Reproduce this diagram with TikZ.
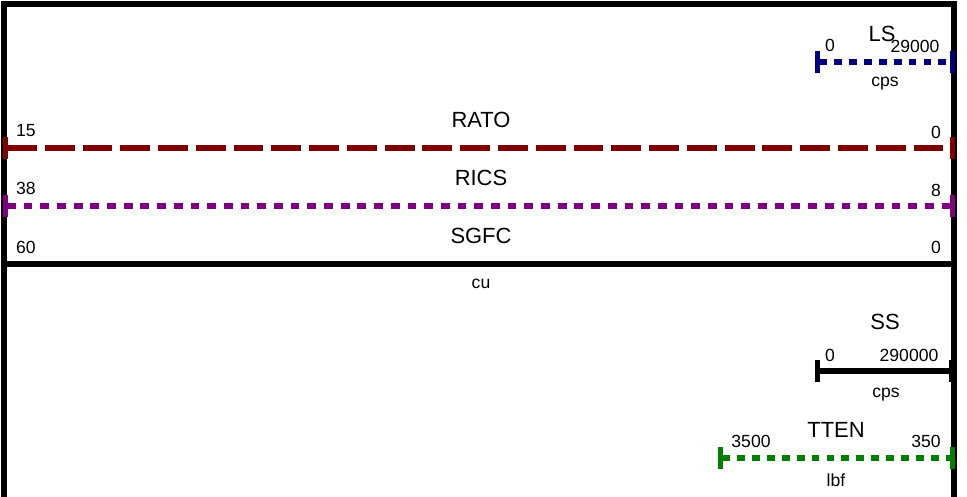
\documentclass[tikz,border=0pt]{standalone}
\usepackage{fontspec}
\setmainfont{Liberation Sans}
\usepackage{xcolor}
\usepackage{tikz}
\usetikzlibrary{arrows.meta}

\definecolor{ratored}{RGB}{128,0,0}
\definecolor{ricspurple}{RGB}{128,0,128}
\definecolor{lsblue}{RGB}{0,0,128}
\definecolor{ttengreen}{RGB}{0,128,0}

\begin{document}
\begin{tikzpicture}[x=0.02cm, y=-0.02cm,
    every node/.style={inner sep=0pt},
    title/.style={font=\fontsize{12.5}{14}\selectfont},
    lbl/.style={font=\fontsize{10}{12}\selectfont},
    frame/.style={line width=3pt, line join=miter},
    curve/.style={line width=3pt},
    bars/.style={{Bar[width=13pt]}-{Bar[width=13pt]}}]
    \useasboundingbox (0,0) rectangle (967,497);

    % track frame
    \draw[frame] (4,497) -- (4,4) -- (954,4) -- (954,497);
    \coordinate (sgfcL) at (4,264);
    \coordinate (sgfcR) at (954,264);
    \draw[frame] (sgfcL) -- (sgfcR);

    % LS
    \node[title] (LS) at (882,34) {LS};
    \node[lbl] (LSmin) at (830,45) {0};
    \node[lbl] (LSmax) at (915,46) {29000};
    \node[lbl] (LSunit) at (885,84) {cps};
    \coordinate (lsL) at (815,62);
    \coordinate (lsR) at (955,62);
    \draw[curve, bars, lsblue, dash pattern=on 4.5pt off 4pt] (lsL) -- (lsR);

    % RATO
    \node[title] (RATO) at (481,120) {RATO};
    \node[lbl] (RATOmin) at (26,131) {15};
    \node[lbl] (RATOmax) at (936,132) {0};
    \coordinate (ratoL) at (3,148);
    \coordinate (ratoR) at (955,148);
    \draw[curve, bars, ratored, dash pattern=on 17pt off 4.5pt] (ratoL) -- (ratoR);

    % RICS
    \node[title] (RICS) at (481,178) {RICS};
    \node[lbl] (RICSmin) at (26,188) {38};
    \node[lbl] (RICSmax) at (936,190) {8};
    \coordinate (ricsL) at (3,206);
    \coordinate (ricsR) at (955,206);
    \draw[curve, bars, ricspurple, dash pattern=on 5pt off 4.5pt] (ricsL) -- (ricsR);

    % SGFC
    \node[title] (SGFC) at (481,236) {SGFC};
    \node[lbl] (SGFCmin) at (26,247) {60};
    \node[lbl] (SGFCmax) at (936,247) {0};
    \node[lbl] (cu) at (481,284) {cu};

    % SS
    \node[title] (SS) at (885,322) {SS};
    \node[lbl] (SSmin) at (830,355) {0};
    \node[lbl] (SSmax) at (909,355) {290000};
    \node[lbl] (SSunit) at (886,395) {cps};
    \coordinate (ssL) at (815,371);
    \coordinate (ssR) at (954,371);
    \draw[curve, bars] (ssL) -- (ssR);

    % TTEN
    \node[title] (TTEN) at (836,430) {TTEN};
    \node[lbl] (TTENmin) at (751,441) {3500};
    \node[lbl] (TTENmax) at (926,441) {350};
    \node[lbl] (lbf) at (836,480) {lbf};
    \coordinate (ttenL) at (718,458);
    \coordinate (ttenR) at (955,458);
    \draw[curve, bars, ttengreen, dash pattern=on 4.5pt off 4pt] (ttenL) -- (ttenR);
\end{tikzpicture}
\end{document}
